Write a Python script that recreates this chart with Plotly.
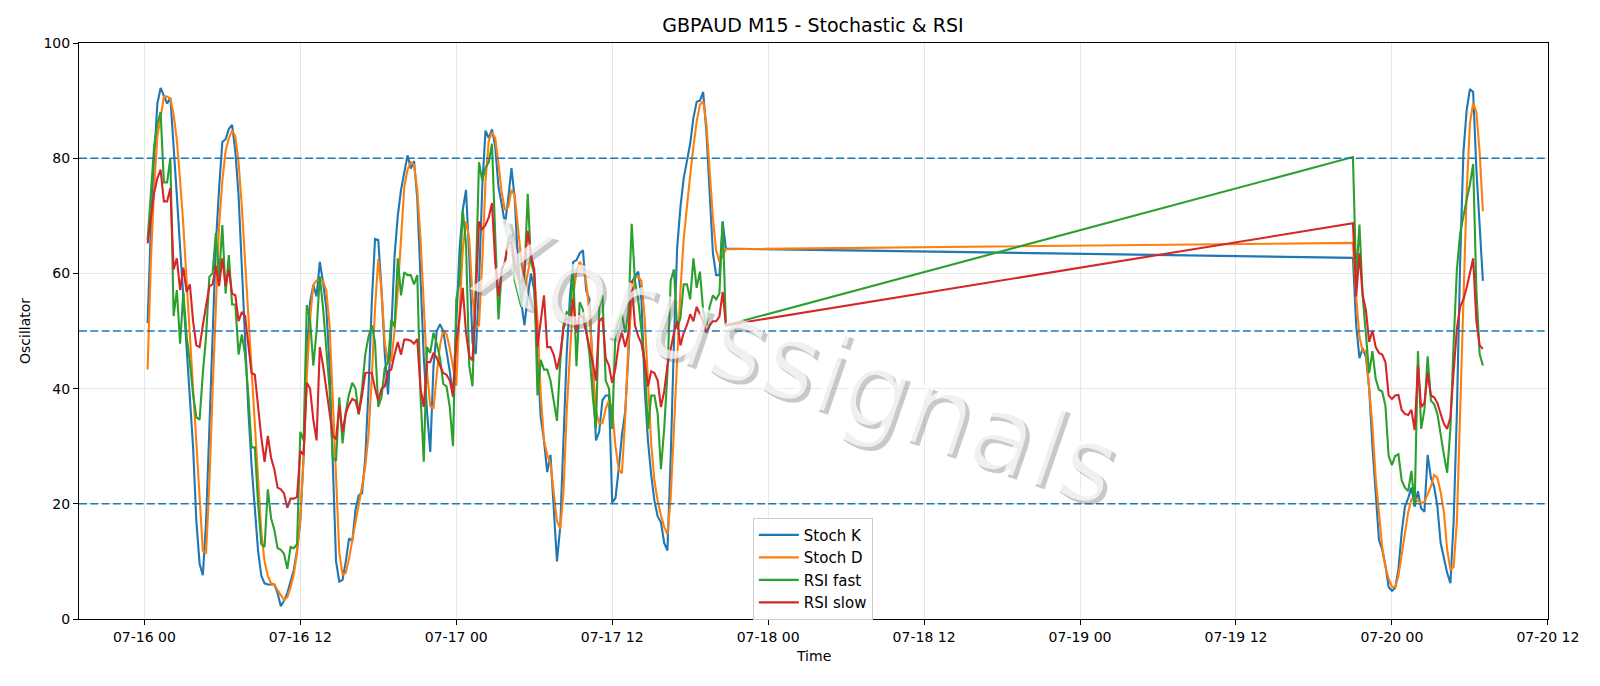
import pandas as pd
import plotly.graph_objects as go

# ---------------- data (M15 bars) ----------------
seg1_start = "2025-07-16 00:15"
seg2_start = "2025-07-19 21:00"

stoch_k_1 = [51.4, 68, 80, 89.5, 92.2, 90.8, 89.5, 90.5, 82.5, 73.5,
             64.5, 56.2, 47.8, 38.8, 29.8, 17, 9.6, 7.6, 17, 33,
             49, 65, 74.8, 82.8, 83.3, 85.1, 85.8, 81.2, 73.5, 60.7,
             49, 36.3, 26.6, 19, 11.8, 7.5, 6.2, 6.0, 6.0, 6.0,
             4.5, 2.2, 3.2, 4.5, 6.5, 8.5, 12, 17, 28, 46,
             55, 58, 56, 62, 58.5, 54, 44, 28, 10, 6.5,
             6.8, 10, 14, 13.5, 19, 21.5, 21.8, 28, 40, 55,
             66, 65.8, 57, 46, 39, 50, 63, 70, 74.5, 77.5,
             80.5, 78.2, 79.5, 73, 60, 45.5, 36, 29, 44, 50,
             51.2, 50, 46.5, 43, 38.5, 50, 64, 71, 74.5, 63,
             48, 46, 58, 75, 84.8, 83.5, 85, 82, 75, 72,
             68.5, 73, 78.3, 73, 62, 55, 51, 56, 60, 57,
             45, 35, 31, 25.5, 28.5, 20, 10, 16, 30, 46,
             56, 62, 62.3, 63.5, 64, 57, 55.5, 43, 31, 32.5,
             38, 38.8, 38.8, 20.2, 21, 26, 32, 36, 46, 58.5,
             59.5, 60.3, 55.5, 40, 31, 25, 20.5, 17.8, 16.8, 13.2,
             11.9, 28, 48, 64.5, 71.5, 76.5, 79.5, 82.5, 87, 89.8,
             90, 91.5, 84.5, 73.5, 63.5, 59.7, 59.7, 69, 64.3]
stoch_d_1 = [43.3, 62, 74.8, 83.8, 87, 90.7, 90.7, 90.3, 87.6, 83.1,
             76.1, 68.4, 58.7, 49.1, 39.5, 29.8, 20.2, 11.8, 11.5, 23.4,
             39.5, 55.5, 68.4, 76.1, 81.2, 83.5, 84.8, 83.8, 79.3, 71.6,
             62, 51.7, 42.7, 33, 23.4, 15, 10, 7.5, 6.2, 6.0,
             5.0, 4.2, 3.3, 3.8, 5.5, 7.8, 11.5, 17.5, 28, 42,
             52, 58, 58.8, 58.8, 58.7, 57, 51, 38, 24, 11.5,
             7.7, 8, 10.5, 13.5, 16.5, 20, 23, 26.5, 32, 42,
             54, 62.5, 57, 48, 44.5, 44.8, 50, 57, 67, 75,
             78, 79.3, 78.8, 74.5, 66, 53, 43, 37, 36.5, 42.5,
             47.5, 50.2, 49.5, 47, 44, 40.5, 53, 64, 69, 66,
             56, 50.5, 51, 62, 76, 83, 84.5, 83.5, 79, 74,
             71, 71.5, 74.5, 73.5, 68, 62.5, 57, 60, 63, 60,
             52, 39, 31, 28.5, 27, 22, 17, 15.7, 22, 36,
             47, 56, 60.5, 62, 61, 58.5, 53, 44, 36, 34,
             34, 36.5, 38, 36.5, 30, 26, 25.3, 35, 48, 55,
             59.2, 59.4, 58.7, 52.3, 40, 30.5, 24, 20.5, 18, 16,
             14.7, 21, 33, 46, 57, 66, 72, 77, 82, 86.4,
             89.3, 89.9, 86, 78, 69.5, 64, 62, 63, 64.2]
rsi_fast_1 = [65.8, 74, 82, 86, 88, 75.8, 75.8, 80, 52.6, 57.1,
              47.8, 56.8, 49.1, 44.6, 39, 35, 34.6, 42.7, 49.1, 59.4,
              60, 67, 59.4, 68.4, 56.5, 63.2, 54.6, 54.6, 45.9, 49.4,
              45.9, 38.8, 29.8, 29.8, 20, 13, 12.5, 22.5, 17.5, 15.5,
              12.3, 12, 11.3, 8.7, 12.5, 12.3, 13, 32.5, 31, 54.5,
              52, 44, 50, 59.5, 54, 47, 40, 28, 27.5, 38.5,
              30.5, 36, 39, 41, 40, 35.5, 40, 46, 49, 51,
              48, 36.8, 38.5, 43.6, 44.6, 52, 50.7, 62.6, 56.2, 60.2,
              59.7, 59.7, 58.1, 59.7, 38.8, 27.3, 47.2, 46.2, 49.7, 47.8,
              45.3, 40.8, 40.4, 36.8, 30, 55.5, 58.4, 71, 65.2, 44,
              40.4, 58.4, 79.3, 76.1, 78.3, 79.3, 82.5, 66.5, 52, 60.7,
              62, 65.8, 66.8, 58.7, 56.2, 54.2, 60, 73.8, 62, 60,
              38.8, 45, 43.3, 43.3, 41.4, 38, 34.4, 44.6, 51, 53.3,
              52.9, 60.7, 43.9, 55, 53.7, 50.4, 46, 38.8, 33, 54.2,
              56.2, 41.4, 40, 33, 50, 51.6, 52.9, 49.7, 53.3, 68.6,
              58.7, 55.5, 49.7, 44.6, 33, 38.8, 38.8, 35.6, 26, 33,
              42.7, 58.7, 60.7, 50.4, 52.3, 58.1, 58.1, 55.5, 62.6, 57.5,
              60.3, 53.5, 51, 54.2, 56.2, 55.5, 56.5, 69, 51]
rsi_slow_1 = [65.2, 70, 74, 76.5, 78, 72.5, 72.5, 74.8, 60.7, 62.6,
              57.1, 61, 56.8, 58.1, 51.7, 47.5, 47.2, 51, 54.2, 57.8,
              58.1, 61.3, 57.8, 62.6, 57.8, 60.7, 56.5, 56.2, 51.7, 53.3,
              52.6, 47.2, 42.7, 42.4, 36.3, 31.5, 27.3, 31.8, 28, 26,
              22.8, 22.5, 21.8, 19.3, 20.9, 20.9, 21.2, 29.2, 28.5, 41,
              40, 34.6, 31, 47.2, 44, 40, 36.3, 31.8, 31.2, 37,
              32.5, 35.7, 37.2, 38.2, 37.9, 35.7, 38.8, 42.7, 42.8, 42.7,
              40, 37.9, 40, 40.4, 43, 43.3, 45.9, 48.1, 45.9, 48.5,
              48.5, 48.3, 47.8, 48.6, 40, 36.8, 44.6, 44.6, 46.2, 45.3,
              44, 42.7, 42.4, 41.4, 38.8, 47.8, 52.3, 57.5, 49.7, 45.6,
              44.9, 55.5, 69, 67.7, 68.4, 69.7, 72.2, 62, 56, 60.7,
              62, 65.2, 65.5, 62, 59.4, 58.1, 60.7, 67.4, 63.2, 60.7,
              47.2, 51.7, 56.2, 47.2, 47.2, 45.9, 43.3, 45.9, 50.4, 52.3,
              51.7, 55.5, 49.7, 52.9, 52.3, 49.7, 47.2, 44.6, 41.4, 51.7,
              52.3, 45.3, 44, 41, 43.5, 47.8, 49.7, 47.2, 49.7, 58.7,
              51, 49.1, 47.8, 44.6, 40.4, 43, 42.7, 41.4, 36.8, 39.5,
              44, 47.2, 49.7, 51.7, 47.5, 49.7, 51, 52.9, 51.7, 54.2,
              52.9, 51.7, 49.7, 51, 51.7, 51.7, 52.5, 56.8, 51]

stoch_k_2 = [62.7, 51, 45.3, 47, 45.5, 40, 30, 21, 13.8, 12,
             9.3, 5.5, 4.9, 5.4, 8.6, 15, 19.5, 21, 22.8, 19.5,
             22.2, 19.2, 18.6, 28.5, 24.5, 23, 19.5, 13.2, 10.6, 8,
             6.2, 17, 36, 62, 81, 88.3, 92, 91.5, 78, 68, 58.7]
stoch_d_2 = [65.3, 56, 49, 46.5, 46.5, 40, 33.5, 24.5, 18, 12.5,
             9, 7, 5.6, 5.5, 7.5, 11, 15, 18.5, 20.8, 21,
             20.5, 20.2, 20.3, 21.5, 23, 25, 24.5, 22, 18.5, 12,
             8.6, 9, 17, 36, 55, 74, 86, 89.6, 88, 81, 70.8]
rsi_fast_2 = [80.2, 59, 68.5, 56, 49.7, 42.7, 46.5, 41.7, 39.8, 39.5,
              37, 28.3, 26.7, 28.3, 28.6, 24.1, 22.8, 22.2, 25.7, 19.6,
              46.5, 33, 36.3, 45.6, 37.9, 37.3, 35.6, 31.8, 28.5, 25.4,
              33, 48, 60.7, 67, 70.2, 72.8, 75.4, 79, 57, 46, 44]
rsi_slow_2 = [68.7, 56, 63.5, 56.2, 53.6, 48.1, 50.1, 47.2, 46.2, 45.9,
              44.6, 38.8, 38.2, 38.8, 38.9, 36.3, 35.6, 35.4, 36.3, 32.8,
              44, 36.8, 37.5, 42.7, 38.8, 38.5, 37.5, 35.6, 33.9, 33,
              35, 43, 50.4, 54.2, 55.5, 57.5, 60, 62.6, 51.7, 47.5, 46.9]

levels = [80, 50, 20]
series_names = ["Stoch K", "Stoch D", "RSI fast", "RSI slow"]
series_colors = ["#1f77b4", "#ff7f0e", "#2ca02c", "#d62728"]
watermark = "Xorussignals"

# ---------------- build ----------------
t1 = pd.date_range(seg1_start, periods=len(stoch_k_1), freq="15min")
t2 = pd.date_range(seg2_start, periods=len(stoch_k_2), freq="15min")
times = list(t1) + list(t2)
values = [stoch_k_1 + stoch_k_2, stoch_d_1 + stoch_d_2,
          rsi_fast_1 + rsi_fast_2, rsi_slow_1 + rsi_slow_2]

FONT = "DejaVu Sans"
fig = go.Figure()
for k, (name, col, vals) in enumerate(zip(series_names, series_colors, values)):
    fig.add_trace(go.Scatter(x=times, y=vals, mode="lines", name=name,
                             legendgroup=f"g{k}",
                             line=dict(color=col, width=2.1)))

for lv in levels:
    fig.add_shape(type="line", xref="paper", x0=0, x1=1, yref="y", y0=lv, y1=lv,
                  line=dict(color="#1f77b4", width=1.4, dash="8px,3.3px"), layer="above")

x_lo = pd.Timestamp("2025-07-16 00:00") - pd.Timedelta(hours=5.03)
x_hi = pd.Timestamp("2025-07-20 12:00") + pd.Timedelta(hours=0.01)

fig.update_layout(
    width=1600, height=686,
    margin=dict(l=79, r=52, t=43, b=67),
    paper_bgcolor="white", plot_bgcolor="white",
    font=dict(family=FONT, size=14, color="black"),
    title=dict(text="GBPAUD M15 - Stochastic & RSI", x=0.5081, xanchor="center",
               y=1 - 25.5 / 686, yanchor="middle", font=dict(size=19, family=FONT)),
    showlegend=True,
    legend=dict(x=0.4587, y=0.176, xanchor="left", yanchor="top",
                bgcolor="rgba(255,255,255,0.8)", bordercolor="#cccccc", borderwidth=1,
                font=dict(size=15, family=FONT), tracegroupgap=0, itemwidth=40),
    xaxis=dict(range=[x_lo, x_hi], type="date", tick0="2025-07-16 00:00",
               dtick=12 * 3600 * 1000, tickformat="%m-%d %H",
               showgrid=True, gridcolor="#e8e8e8", gridwidth=1,
               showline=True, linecolor="black", linewidth=1.1, mirror=True,
               ticks="outside", ticklen=5, tickwidth=1.1, tickcolor="black",
               tickfont=dict(size=14, family=FONT), zeroline=False),
    yaxis=dict(range=[0, 100], tickvals=[0, 20, 40, 60, 80, 100],
               showgrid=True, gridcolor="#e8e8e8", gridwidth=1,
               showline=True, linecolor="black", linewidth=1.1, mirror=True,
               ticks="outside", ticklen=5, tickwidth=1.1, tickcolor="black",
               tickfont=dict(size=14, family=FONT), zeroline=False),
)

# axis titles
fig.add_annotation(text="Time", xref="paper", yref="paper", x=0.5, y=0,
                   yanchor="middle", yshift=-37, showarrow=False,
                   font=dict(size=14, family=FONT))
fig.add_annotation(text="Oscillator", xref="paper", yref="paper", x=0, y=0.5,
                   xanchor="center", xshift=-54, textangle=-90, showarrow=False,
                   font=dict(size=14, family=FONT))

# watermark (shadow + light face)
wx, wy = 0.488, 0.445
fig.add_annotation(text=watermark, xref="paper", yref="paper", x=wx, y=wy,
                   xshift=4, yshift=-4, textangle=19, showarrow=False,
                   font=dict(size=106, family=FONT, color="rgba(100,100,100,0.35)"))
fig.add_annotation(text=watermark, xref="paper", yref="paper", x=wx, y=wy,
                   textangle=19, showarrow=False,
                   font=dict(size=106, family=FONT, color="rgba(255,255,255,0.72)"))

fig.write_html("out.html")
